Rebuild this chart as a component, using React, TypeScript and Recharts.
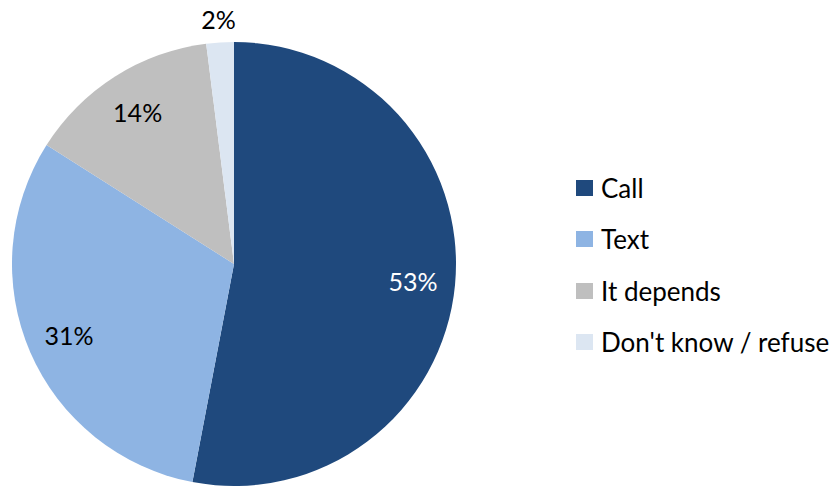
import React from 'react';
import { PieChart, Pie, Cell, Legend } from 'recharts';

const categories = ['Call', 'Text', 'It depends', "Don't know / refuse"];
const shares = [53, 31, 14, 2];
const colors = ['#1F497D', '#8EB4E3', '#BFBFBF', '#DCE6F2'];
const labelColors = ['#FFFFFF', '#000000', '#000000', '#000000'];

const data = categories.map((name, i) => ({ name, value: shares[i] }));

const FONT = 'Lato, "Open Sans", sans-serif';
const RAD = Math.PI / 180;

const renderLabel = (props: any) => {
    const { cx, cy, midAngle, outerRadius, index, value } = props;
    const r = value < 5 ? outerRadius + 23 : outerRadius * 0.81;
    const x = cx + r * Math.cos(-midAngle * RAD);
    const y = cy + r * Math.sin(-midAngle * RAD);
    return (
        <text
            x={x}
            y={y}
            fill={labelColors[index]}
            textAnchor="middle"
            dominantBaseline="central"
            fontSize={25}
            fontFamily={FONT}
        >
            {value}%
        </text>
    );
};

const renderLegend = () => (
    <div style={{ fontFamily: FONT, fontSize: 26, color: '#000' }}>
        {categories.map((name, i) => (
            <div key={name} style={{ display: 'flex', alignItems: 'center', height: 51.5 }}>
                <span style={{ width: 17, height: 16, background: colors[i], marginRight: 8, display: 'inline-block' }} />
                <span>{name}</span>
            </div>
        ))}
    </div>
);

const App: React.FC = () => {
    return (
        <div style={{ position: 'absolute', left: 0, top: 0, width: 840, height: 486, background: '#fff' }}>
            <PieChart width={840} height={486} margin={{ top: 0, right: 0, bottom: 0, left: 0 }}>
                <Pie
                    data={data}
                    dataKey="value"
                    nameKey="name"
                    cx={234}
                    cy={264}
                    outerRadius={222}
                    startAngle={90}
                    endAngle={-270}
                    stroke="none"
                    label={renderLabel}
                    labelLine={false}
                    isAnimationActive={false}
                >
                    {data.map((d, i) => (
                        <Cell key={d.name} fill={colors[i]} />
                    ))}
                </Pie>
                <Legend
                    content={renderLegend}
                    layout="vertical"
                    wrapperStyle={{ position: 'absolute', left: 576, top: 162, width: 264 }}
                />
            </PieChart>
        </div>
    );
};

export default App;
